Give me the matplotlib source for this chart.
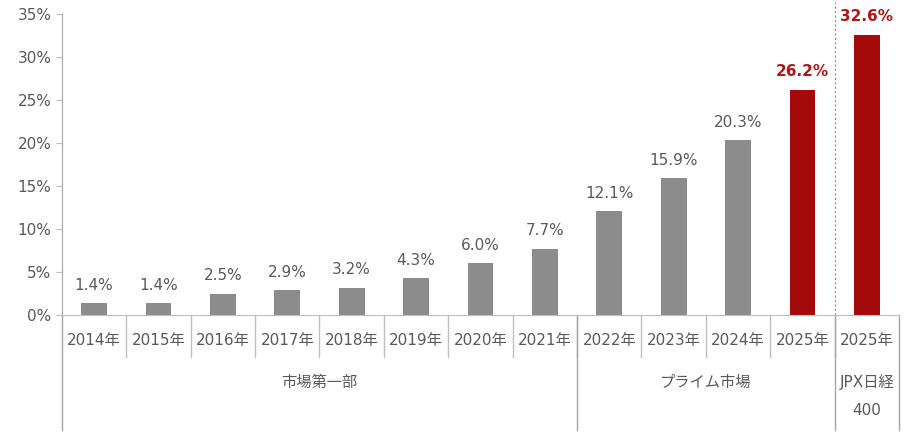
import matplotlib
matplotlib.use('Agg')
import matplotlib.pyplot as plt
import matplotlib.transforms as mtransforms

plt.rcParams['font.family'] = ['DejaVu Sans', 'Noto Sans CJK JP']

# data
years = ['2014年', '2015年', '2016年', '2017年', '2018年', '2019年', '2020年',
         '2021年', '2022年', '2023年', '2024年', '2025年', '2025年']
values = [1.4, 1.4, 2.5, 2.9, 3.2, 4.3, 6.0, 7.7, 12.1, 15.9, 20.3, 26.2, 32.6]
highlight = [False] * 11 + [True, True]
groups = ['市場第一部', 'プライム市場', 'JPX日経\n400']
group_start = [0, 8, 12]
group_end = [7, 11, 12]

gray = '#8c8c8c'
red = '#a50a0a'
label_red = '#b01515'
text_col = '#595959'
line_col = '#bfbfbf'

fig = plt.figure(figsize=(9.1, 4.34), dpi=100)
ax = fig.add_axes([0.068, 0.274, 0.92, 0.694])

x = list(range(len(values)))
colors = [red if h else gray for h in highlight]
ax.bar(x, values, width=0.4, color=colors)

for xi, v, h in zip(x, values, highlight):
    ax.annotate(f'{v:.1f}%', (xi, v), xytext=(0, 7.5), textcoords='offset points',
                ha='center', va='bottom', fontsize=11,
                color=label_red if h else text_col,
                fontweight='bold' if h else 'normal')

ax.set_xlim(-0.5, len(values) - 0.5)
ax.set_ylim(0, 35)
ax.set_yticks(range(0, 36, 5))
ax.set_yticklabels([f'{t}%' for t in range(0, 36, 5)])
ax.tick_params(axis='y', colors=text_col, labelsize=11, length=4, color=line_col)
ax.set_xticks([])

for s in ['top', 'right']:
    ax.spines[s].set_visible(False)
ax.spines['left'].set_color('#a6a6a6')
ax.spines['bottom'].set_color(line_col)

trans = mtransforms.blended_transform_factory(ax.transData, ax.transAxes)
row1 = -0.14
bottom = -0.382

# year labels and short separators
for xi, lab in zip(x, years):
    ax.text(xi, -0.083, lab, transform=trans, ha='center', va='center',
            fontsize=11, color=text_col)
for b in range(1, len(values)):
    ax.plot([b - 0.5, b - 0.5], [0, row1], transform=trans, color=line_col,
            lw=1, clip_on=False)

# group labels and long separators
for g, s, e in zip(groups, group_start, group_end):
    for i, part in enumerate(g.split('\n')):
        ax.text((s + e) / 2, -0.223 - 0.093 * i, part, transform=trans,
                ha='center', va='center', fontsize=11, color=text_col)
    ax.plot([e + 0.5, e + 0.5], [0, bottom], transform=trans, color='#a6a6a6',
            lw=1, clip_on=False)
ax.plot([-0.5, -0.5], [0, bottom], transform=trans, color='#a6a6a6',
        lw=1, clip_on=False)

# dashed divider above the axis
ax.plot([11.5, 11.5], [0, 1.04], transform=trans, color='#8c8c8c', lw=0.8,
        ls=(0, (2, 2)), clip_on=False)

fig.savefig('out.png', dpi=100, facecolor='white')
